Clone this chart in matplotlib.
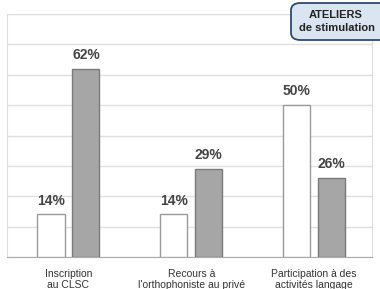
import numpy as np
import matplotlib.pyplot as plt
from matplotlib.patches import FancyBboxPatch

categories = ['Inscription\nau CLSC', "Recours à\nl'orthophoniste au privé",
              'Participation à des\nactivités langage']
before = [14, 14, 50]
after = [62, 29, 26]

plt.rcParams['font.family'] = ['Liberation Sans', 'DejaVu Sans']

W, H = 380, 289
fig = plt.figure(figsize=(W / 100, H / 100), dpi=100)
ax = fig.add_axes([7 / W, 1 - 257 / H, 365 / W, 243 / H])

x = np.arange(len(categories))
w = 0.22
off = 0.142
ax.bar(x - off, before, w, color='white', edgecolor='#9a9a9a', linewidth=1, zorder=3)
ax.bar(x + off, after, w, color='#a6a6a6', edgecolor='#7a7a7a', linewidth=1, zorder=3)

for xs, vals in [(x - off, before), (x + off, after)]:
    for xi, v in zip(xs, vals):
        ax.text(xi, v + 2.2, f'{v}%', ha='center', va='bottom', fontsize=10,
                fontweight='bold', color='#444444')

ax.set_xlim(-0.5, 2.47)
ax.set_ylim(0, 80)
ax.set_yticks(np.arange(0, 81, 10))
ax.set_yticklabels([])
ax.tick_params(left=False, bottom=False)
ax.grid(axis='y', color='#e0e0e0', linewidth=1, zorder=0)
ax.set_xticks(x)
ax.set_xticklabels(categories, fontsize=7.5, color='#333333', linespacing=1.1)
ax.tick_params(axis='x', pad=5)
for s in ['top', 'left', 'right']:
    ax.spines[s].set_color('#dddddd')
ax.spines['bottom'].set_color('#aaaaaa')

# "ATELIERS de stimulation" badge, cut by the right edge
box = FancyBboxPatch((291 / W, 1 - 40 / H), 110 / W, 37 / H,
                     boxstyle='round,pad=0,rounding_size=0.025',
                     transform=fig.transFigure, fc='#dbe5f1', ec='#2e4a72',
                     lw=1.3, zorder=5)
fig.patches.append(box)
fig.text(336 / W, 1 - 15 / H, 'ATELIERS', ha='center', va='center',
         fontsize=8, fontweight='bold', color='#222222', zorder=6)
fig.text(337 / W, 1 - 28 / H, 'de stimulation', ha='center', va='center',
         fontsize=8, fontweight='bold', color='#222222', zorder=6)

fig.savefig('out.png', dpi=100)
